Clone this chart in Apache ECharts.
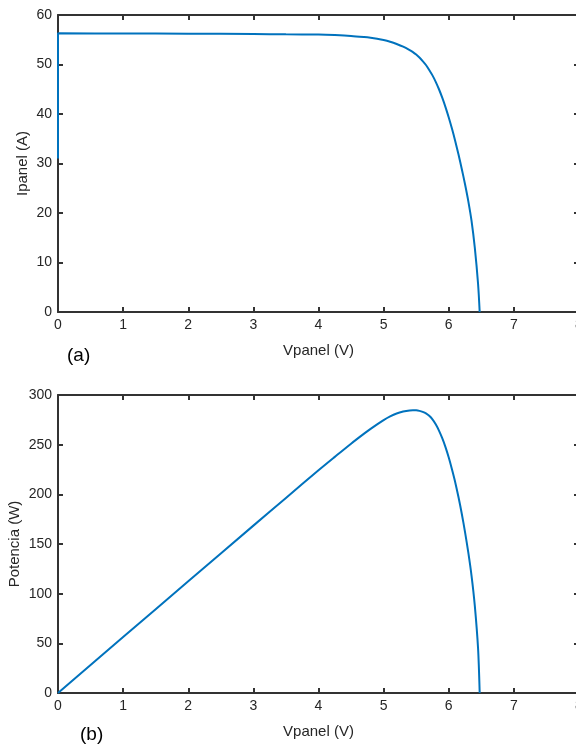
<!DOCTYPE html>
<html>
<head>
<meta charset="utf-8">
<script src="https://cdn.jsdelivr.net/npm/echarts@6/dist/echarts.min.js"></script>
<style>
html,body{margin:0;padding:0;background:#fff;}
#chart{width:576px;height:746px;}
</style>
</head>
<body>
<div id="chart"></div>
<script>
// Voltage samples (V) shared by both curves
var vpanel = [0, 1, 2, 3, 3.5, 4, 4.25, 4.5, 4.7, 4.8, 4.9, 5.0, 5.1, 5.2, 5.3, 5.4, 5.45, 5.5, 5.55, 5.6, 5.65, 5.7, 5.75, 5.8, 5.85, 5.9, 5.95, 6.0, 6.05, 6.1, 6.15, 6.2, 6.25, 6.3, 6.35, 6.4, 6.45, 6.475];
// (a) panel current (A); the trace starts with a vertical jump at V = 0 from this value
var ipanelStart = 31;
var ipanel = [56.3, 56.26, 56.22, 56.15, 56.1, 56.04, 55.94, 55.78, 55.55, 55.4, 55.2, 54.95, 54.6, 54.15, 53.6, 52.9, 52.5, 52.0, 51.4, 50.7, 49.9, 48.9, 47.8, 46.5, 45.0, 43.3, 41.4, 39.3, 37.0, 34.5, 31.8, 28.9, 25.8, 22.4, 18.4, 13.0, 5.7, 0];
// (b) panel power (W)
var potencia = [0, 56.3, 112.4, 168.5, 196.4, 224.2, 237.7, 251.0, 261.1, 265.9, 270.5, 274.8, 278.5, 281.4, 283.3, 284.5, 284.7, 284.6, 284.0, 283.0, 281.5, 279.0, 275.5, 270.5, 264.2, 256.5, 247.5, 237.0, 225.0, 212.0, 197.0, 180.5, 162.0, 141.5, 118.0, 88.0, 45.0, 0];

var xTicks = {min: 0, max: 8, interval: 1};
var iTicks = {min: 0, max: 60, interval: 10};
var pTicks = {min: 0, max: 300, interval: 50};

var axisColor = '#333333';
var textColor = '#262626';
var font = 'Liberation Sans, Arial, sans-serif';

function pairs(xs, ys){ return xs.map(function(x,i){ return [x, ys[i]]; }); }

function mainX(grid, name){
  return {
    type: 'value', gridIndex: grid, min: xTicks.min, max: xTicks.max, interval: xTicks.interval,
    position: 'bottom',
    name: name, nameLocation: 'middle', nameGap: 31, nameMoveOverlap: false,
    nameTextStyle: {color: textColor, fontSize: 15, fontFamily: font},
    axisLine: {show: true, onZero: false, lineStyle: {color: axisColor, width: 2}},
    axisTick: {show: true, inside: true, length: 5, lineStyle: {color: axisColor, width: 2}},
    axisLabel: {color: textColor, fontSize: 14, fontFamily: font, margin: 6},
    splitLine: {show: false}
  };
}
function boxX(grid){
  return {
    type: 'value', gridIndex: grid, min: xTicks.min, max: xTicks.max, interval: xTicks.interval,
    position: 'top',
    axisLine: {show: true, onZero: false, lineStyle: {color: axisColor, width: 2}},
    axisTick: {show: true, inside: true, length: 5, lineStyle: {color: axisColor, width: 2}},
    axisLabel: {show: false}, splitLine: {show: false}
  };
}
function mainY(grid, t, name, gap){
  return {
    type: 'value', gridIndex: grid, min: t.min, max: t.max, interval: t.interval,
    position: 'left',
    name: name, nameLocation: 'middle', nameGap: gap, nameMoveOverlap: false,
    nameTextStyle: {color: textColor, fontSize: 15, fontFamily: font},
    axisLine: {show: true, onZero: false, lineStyle: {color: axisColor, width: 2}},
    axisTick: {show: true, inside: true, length: 5, lineStyle: {color: axisColor, width: 2}},
    axisLabel: {color: textColor, fontSize: 14, fontFamily: font, margin: 6},
    splitLine: {show: false}
  };
}
function boxY(grid, t){
  return {
    type: 'value', gridIndex: grid, min: t.min, max: t.max, interval: t.interval,
    position: 'right',
    axisLine: {show: true, onZero: false, lineStyle: {color: axisColor, width: 2}},
    axisTick: {show: true, inside: true, length: 5, lineStyle: {color: axisColor, width: 2}},
    axisLabel: {show: false}, splitLine: {show: false}
  };
}

var ivData = [[vpanel[0], ipanelStart]].concat(pairs(vpanel, ipanel));

var chart = echarts.init(document.getElementById('chart'), null, {renderer: 'canvas'});
chart.setOption({
  animation: false,
  backgroundColor: '#ffffff',
  grid: [
    {left: 58, top: 15, width: 521, height: 297, containLabel: false, outerBoundsMode: 'none'},
    {left: 58, top: 395, width: 521, height: 298, containLabel: false, outerBoundsMode: 'none'}
  ],
  xAxis: [mainX(0, 'Vpanel (V)'), boxX(0), mainX(1, 'Vpanel (V)'), boxX(1)],
  yAxis: [mainY(0, iTicks, 'Ipanel (A)', 28), boxY(0, iTicks), mainY(1, pTicks, 'Potencia (W)', 36), boxY(1, pTicks)],
  series: [
    {type: 'line', xAxisIndex: 0, yAxisIndex: 0, data: ivData, showSymbol: false, smooth: 0.3,
     lineStyle: {color: '#0072BD', width: 2}},
    {type: 'line', xAxisIndex: 2, yAxisIndex: 2, data: pairs(vpanel, potencia), showSymbol: false, smooth: 0.3,
     lineStyle: {color: '#0072BD', width: 2}}
  ],
  graphic: [
    {type: 'text', left: 67, top: 346, style: {text: '(a)', fill: '#000', fontSize: 19, fontFamily: font}},
    {type: 'text', left: 80, top: 725, style: {text: '(b)', fill: '#000', fontSize: 19, fontFamily: font}}
  ]
});
</script>
</body>
</html>
